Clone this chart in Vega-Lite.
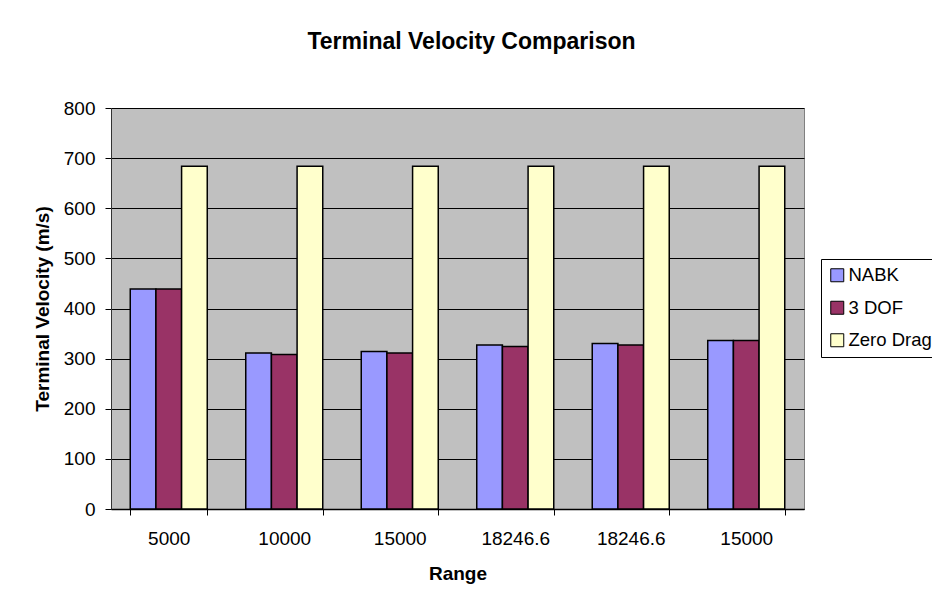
{
  "$schema": "https://vega.github.io/schema/vega-lite/v6.json",
  "autosize": {"type": "none"},
  "width": 693,
  "height": 401,
  "padding": {"left": 111, "top": 108, "right": 128, "bottom": 95},
  "background": "white",
  "title": {
    "text": "Terminal Velocity Comparison",
    "font": "Liberation Sans",
    "fontSize": 23,
    "fontWeight": "bold",
    "color": "black",
    "anchor": "middle",
    "baseline": "alphabetic",
    "offset": 27,
    "dx": 14
  },
  "data": {
    "values": [
      {"Range": "1|5000", "Series": "NABK", "Velocity": 439},
      {"Range": "1|5000", "Series": "3 DOF", "Velocity": 439},
      {"Range": "1|5000", "Series": "Zero Drag", "Velocity": 684},
      {"Range": "2|10000", "Series": "NABK", "Velocity": 311},
      {"Range": "2|10000", "Series": "3 DOF", "Velocity": 308},
      {"Range": "2|10000", "Series": "Zero Drag", "Velocity": 684},
      {"Range": "3|15000", "Series": "NABK", "Velocity": 314},
      {"Range": "3|15000", "Series": "3 DOF", "Velocity": 311},
      {"Range": "3|15000", "Series": "Zero Drag", "Velocity": 684},
      {"Range": "4|18246.6", "Series": "NABK", "Velocity": 327},
      {"Range": "4|18246.6", "Series": "3 DOF", "Velocity": 324},
      {"Range": "4|18246.6", "Series": "Zero Drag", "Velocity": 684},
      {"Range": "5|18246.6", "Series": "NABK", "Velocity": 330},
      {"Range": "5|18246.6", "Series": "3 DOF", "Velocity": 327},
      {"Range": "5|18246.6", "Series": "Zero Drag", "Velocity": 684},
      {"Range": "6|15000", "Series": "NABK", "Velocity": 336},
      {"Range": "6|15000", "Series": "3 DOF", "Velocity": 336},
      {"Range": "6|15000", "Series": "Zero Drag", "Velocity": 684}
    ]
  },
  "mark": {"type": "bar", "stroke": "black", "strokeWidth": 1.5},
  "encoding": {
    "x": {
      "field": "Range",
      "type": "nominal",
      "sort": null,
      "scale": {"paddingInner": 0.3333, "paddingOuter": 0.1667},
      "axis": {
        "title": "Range",
        "labelExpr": "split(datum.label, '|')[1]",
        "labelAngle": 0,
        "tickBand": "extent",
        "tickSize": 6,
        "tickColor": "black",
        "domainColor": "black",
        "domainWidth": 1.5,
        "labelPadding": 14,
        "titlePadding": 16,
        "grid": false
      }
    },
    "xOffset": {
      "field": "Series",
      "type": "nominal",
      "sort": ["NABK", "3 DOF", "Zero Drag"],
      "scale": {"paddingInner": 0, "paddingOuter": 0}
    },
    "y": {
      "field": "Velocity",
      "type": "quantitative",
      "scale": {"domain": [0, 800], "nice": false},
      "axis": {
        "title": "Terminal Velocity (m/s)",
        "values": [0, 100, 200, 300, 400, 500, 600, 700, 800],
        "tickSize": 6,
        "tickColor": "black",
        "domainColor": "#333333",
        "labelPadding": 10,
        "titlePadding": 11,
        "grid": true,
        "gridColor": "black",
        "gridWidth": 1,
        "gridOpacity": 1
      }
    },
    "color": {
      "field": "Series",
      "type": "nominal",
      "scale": {
        "domain": ["NABK", "3 DOF", "Zero Drag"],
        "range": ["#9999FF", "#993366", "#FFFFCC"]
      },
      "legend": {
        "title": null,
        "orient": "none",
        "legendX": 710,
        "legendY": 151,
        "symbolType": "square",
        "symbolSize": 169,
        "symbolStrokeColor": "black",
        "symbolStrokeWidth": 1,
        "symbolOpacity": 1,
        "labelFont": "Liberation Sans",
        "labelFontSize": 18.5,
        "labelColor": "black",
        "labelOffset": 2,
        "rowPadding": 13.5,
        "padding": 7,
        "strokeColor": "black",
        "fillColor": "white",
        "labelLimit": 300
      }
    }
  },
  "config": {
    "view": {"fill": "#C0C0C0", "stroke": "#808080", "strokeWidth": 1},
    "axis": {
      "labelFont": "Liberation Sans",
      "labelFontSize": 19,
      "labelColor": "black",
      "titleFont": "Liberation Sans",
      "titleFontSize": 19,
      "titleFontWeight": "bold",
      "titleColor": "black"
    }
  }
}
